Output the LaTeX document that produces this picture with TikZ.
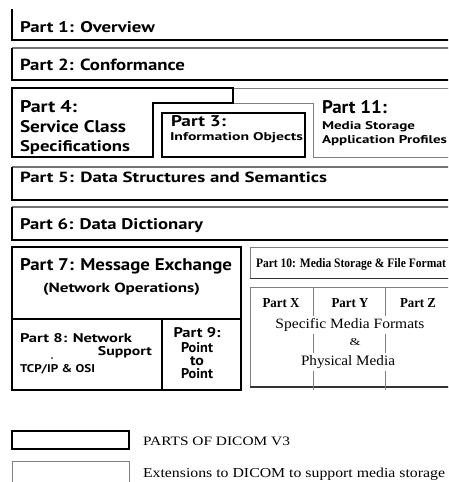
\documentclass[tikz,border=0pt]{standalone}
\usepackage{fontspec}
\usepackage{graphicx}
\newfontfamily\chicfont{PT Sans}
\newfontfamily\nyfont{Liberation Serif}
% scale a piece of text to a given width and height (in pt)
\newcommand\fitbox[3]{\resizebox{#1pt}{#2pt}{#3}}
\newcommand\sansb[1]{{\chicfont\bfseries #1}}
\newcommand\serifr[1]{{\nyfont #1}}
\newcommand\serifb[1]{{\nyfont\bfseries #1}}
\tikzset{
  partline/.style={draw=black, line width=1.6pt},
  partside/.style={draw=black, line width=1.2pt},
  parttop/.style={draw=black!55, line width=1.2pt},
  extline/.style={draw=black!50, line width=0.9pt},
  lbl/.style={inner sep=0pt, outer sep=0pt},
  cutlbl/.style={inner xsep=1pt, inner ysep=2.5pt, fill=white},
}
% a full-width bar of the standard: grey top, black left and bottom
\newcommand\partbar[2]{%
  \draw[parttop] (12,#1) -- (460,#1);
  \draw[partside] (12,#1) -- (12,#2);
  \draw[partline] (11.4,#2) -- (460,#2);
}
\begin{document}
\begin{tikzpicture}[x=1pt,y=-1pt]
\useasboundingbox (0,0) rectangle (448,482);
\fill[white] (0,0) rectangle (448,482);
\clip (0,0) rectangle (448,482);

% ---- Part 1 (top edge lies above the sheet)
\draw[partside] (12,9) -- (12,40);
\draw[partline] (11.4,40) -- (460,40);
\node[lbl, anchor=base west] (p1) at (20,32) {\fitbox{135}{11}{\sansb{Part 1: Overview}}};

% ---- Part 2
\partbar{48}{80}
\node[lbl, anchor=base west] (p2) at (20,70) {\fitbox{165}{11.5}{\sansb{Part 2: Conformance}}};

% ---- Part 11 (media storage extension, thin outline)
\draw[extline] (233,88) -- (460,88);
\draw[extline] (233,103) -- (313,103) -- (313,157) -- (460,157);
\node[lbl, anchor=base west] (p11a) at (322,113) {\fitbox{65}{13}{\sansb{Part 11:}}};
\node[lbl, anchor=base west] (p11b) at (322,129) {\fitbox{93}{8}{\sansb{Media Storage}}};
\node[lbl, anchor=base west] (p11c) at (322,143) {\fitbox{125}{8}{\sansb{Application Profiles}}};

% ---- Part 4 (stepped outline)
\draw[partline, line join=miter] (12,88) -- (233,88) -- (233,103) -- (153,103) -- (153,157) -- (12,157) -- cycle;
\node[lbl, anchor=base west] (p4a) at (20,112) {\fitbox{57}{12}{\sansb{Part 4:}}};
\node[lbl, anchor=base west] (p4b) at (20,132) {\fitbox{106}{12}{\sansb{Service Class}}};
\node[lbl, anchor=base west] (p4c) at (20,151) {\fitbox{110}{11}{\sansb{Specifications}}};

% ---- Part 3
\draw[partline] (162,113) rectangle (305,157);
\node[lbl, anchor=base west] (p3a) at (171,126) {\fitbox{55}{11}{\sansb{Part 3:}}};
\node[lbl, anchor=base west] (p3b) at (170,140) {\fitbox{133}{8}{\sansb{Information Objects}}};

% ---- Part 5 and Part 6
\partbar{167}{200}
\node[lbl, anchor=base west] (p5) at (20,182) {\fitbox{307}{10.5}{\sansb{Part 5: Data Structures and Semantics}}};
\partbar{207}{240}
\node[lbl, anchor=base west] (p6) at (20,229) {\fitbox{183}{11}{\sansb{Part 6: Data Dictionary}}};

% ---- Parts 7, 8, 9
\draw[partline] (12,247) rectangle (241,390);
\draw[partline] (12,319) -- (241,319);
\draw[partline] (162,319) -- (162,390);
\node[lbl, anchor=base west] (p7a) at (20,270) {\fitbox{212}{12}{\sansb{Part 7: Message Exchange}}};
\node[lbl, anchor=base west] (p7b) at (43,292) {\fitbox{157}{9.5}{\sansb{(Network Operations)}}};
\node[lbl, anchor=base west] (p8a) at (20,342) {\fitbox{112}{9}{\sansb{Part 8: Network}}};
\node[lbl, anchor=base east] (p8b) at (152,355) {\fitbox{54}{9}{\sansb{Support}}};
\node[lbl, anchor=base] (p8dot) at (52,359) {\fitbox{2}{2}{\sansb{.}}};
\node[lbl, anchor=base west] (p8c) at (20,372) {\fitbox{75}{8}{\sansb{TCP/IP \& OSI}}};
\node[lbl, anchor=base] (p9a) at (197,337) {\fitbox{47}{10}{\sansb{Part 9:}}};
\node[lbl, anchor=base] (p9b) at (197,352) {\fitbox{32}{10}{\sansb{Point}}};
\node[lbl, anchor=base] (p9c) at (197,365) {\fitbox{14}{9}{\sansb{to}}};
\node[lbl, anchor=base] (p9d) at (197,378) {\fitbox{32}{10}{\sansb{Point}}};

% ---- Part 10 (media storage extension)
\draw[extline] (250,247) rectangle (470,278);
\draw[draw=black!80, line width=1pt] (250,278) -- (470,278);
\node[lbl, anchor=base west] (p10) at (256,267) {\fitbox{190}{9}{\serifb{Part 10: Media Storage \& File Format}}};

% ---- specific media formats grid
\draw[extline] (250,287) rectangle (470,387);
\draw[draw=black!80, line width=1.1pt] (250,387) -- (470,387);
\coordinate (colA) at (313,287);
\coordinate (colAb) at (313,390);
\coordinate (colB) at (385,287);
\coordinate (colBb) at (385,390);
\draw[extline] (colA) -- (colAb);
\draw[extline] (colB) -- (colBb);
\node[lbl, anchor=base] (px) at (281,307) {\fitbox{37}{9}{\serifb{Part X}}};
\node[lbl, anchor=base] (py) at (350,307) {\fitbox{37}{9}{\serifb{Part Y}}};
\node[lbl, anchor=base] (pz) at (418,307) {\fitbox{36}{9}{\serifb{Part Z}}};
\node[cutlbl, anchor=base] (smf) at (350,328) {\fitbox{149}{10}{\serifr{Specific Media Formats}}};
\node[lbl, anchor=base] (amp) at (355,345) {\fitbox{11}{7}{\serifr{\&}}};
\node[cutlbl, anchor=base] (phm) at (348,365) {\fitbox{94}{10}{\serifr{Physical Media}}};

% ---- key
\draw[partline] (12,431) rectangle (129,449);
\node[lbl, anchor=base west] (key1) at (143,445) {\fitbox{147}{8.5}{\serifr{PARTS OF DICOM V3}}};
\draw[extline] (12,461) rectangle (129,495);
\node[lbl, anchor=base west] (key2) at (143,477) {\fitbox{302}{9.5}{\serifr{Extensions to DICOM to support media storage}}};
\end{tikzpicture}
\end{document}
